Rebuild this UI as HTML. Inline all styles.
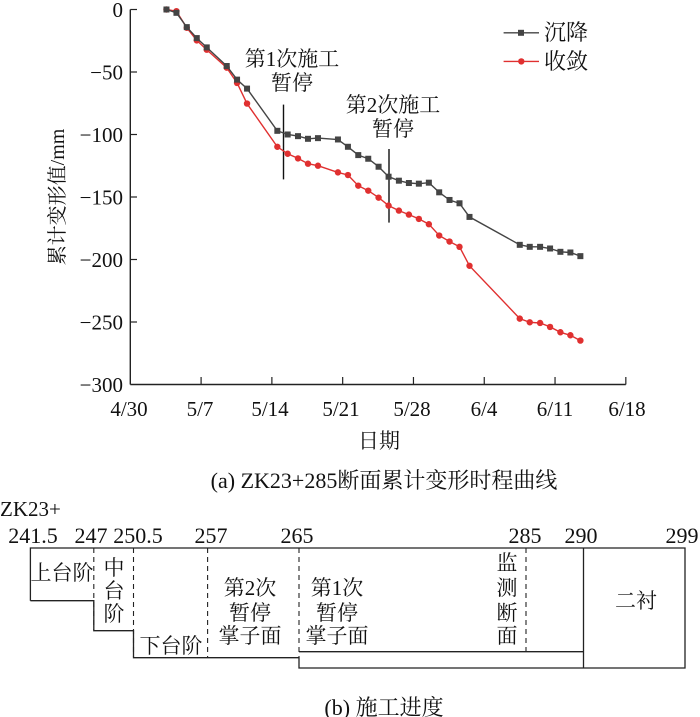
<!DOCTYPE html>
<html><head><meta charset="utf-8">
<style>
html,body{margin:0;padding:0;background:#fff;}
svg{display:block;}
text{font-family:"Liberation Serif","Noto Serif CJK SC","Noto Sans CJK SC",serif;fill:#111;}
</style></head>
<body>
<svg id="s" width="700" height="717" viewBox="0 0 700 717" xmlns="http://www.w3.org/2000/svg">
<g id="chart" stroke="#222" stroke-width="1.4" fill="none">
  <line x1="130.3" y1="9.5" x2="130.3" y2="384.5"/>
  <line x1="130.3" y1="384.5" x2="625.8" y2="384.5"/>
</g>
<g id="ticks" stroke="#222" stroke-width="1.2"></g>
<g font-size="21">
  <text x="123" y="17" text-anchor="end">0</text>
  <text x="123" y="79.5" text-anchor="end">−50</text>
  <text x="123" y="142" text-anchor="end">−100</text>
  <text x="123" y="204.5" text-anchor="end">−150</text>
  <text x="123" y="267" text-anchor="end">−200</text>
  <text x="123" y="329.5" text-anchor="end">−250</text>
  <text x="123" y="392" text-anchor="end">−300</text>
  <text x="129" y="416" text-anchor="middle">4/30</text>
  <text x="200" y="416" text-anchor="middle">5/7</text>
  <text x="270" y="416" text-anchor="middle">5/14</text>
  <text x="341" y="416" text-anchor="middle">5/21</text>
  <text x="412" y="416" text-anchor="middle">5/28</text>
  <text x="484" y="416" text-anchor="middle">6/4</text>
  <text x="555" y="416" text-anchor="middle">6/11</text>
  <text x="627" y="416" text-anchor="middle">6/18</text>
  <text x="379" y="448" text-anchor="middle">日期</text>
  <text x="384" y="488" text-anchor="middle" font-size="22">(a) ZK23+285断面累计变形时程曲线</text>
  <text transform="translate(64,197) rotate(-90)" text-anchor="middle" font-size="20">累计变形值/mm</text>
  <text x="292" y="66" text-anchor="middle">第1次施工</text>
  <text x="292" y="90" text-anchor="middle">暂停</text>
  <text x="393" y="112" text-anchor="middle">第2次施工</text>
  <text x="393" y="136" text-anchor="middle">暂停</text>
  <text x="544" y="40" font-size="22">沉降</text>
  <text x="544" y="69" font-size="22">收敛</text>
</g>
<line x1="283.5" y1="104.6" x2="283.5" y2="179.4" stroke="#111" stroke-width="1.4"/>
<line x1="389" y1="149" x2="389" y2="222.6" stroke="#111" stroke-width="1.4"/>
<line x1="503.6" y1="32.8" x2="539" y2="32.8" stroke="#444" stroke-width="1.4"/>
<rect x="518" y="29.8" width="6" height="6" fill="#444"/>
<line x1="503.6" y1="61.4" x2="539" y2="61.4" stroke="#e03030" stroke-width="1.4"/>
<circle cx="521.3" cy="61.4" r="3.2" fill="#e03030"/>
<g id="series"></g>

<g stroke="#222" stroke-width="1.3" fill="none">
  <polyline points="30.4,600.7 30.4,548 685,548 685,668 299,668 299,657.7 133.5,657.7 133.5,630.7 93.8,630.7 93.8,600.7 30.4,600.7"/>
  <line x1="299" y1="651.7" x2="583.5" y2="651.7"/>
  <line x1="583.5" y1="548" x2="583.5" y2="668"/>
  <g stroke-dasharray="5,4" stroke-width="1.1">
    <line x1="93.8" y1="548" x2="93.8" y2="630"/>
    <line x1="133.5" y1="548" x2="133.5" y2="657"/>
    <line x1="207.6" y1="548" x2="207.6" y2="657"/>
    <line x1="299" y1="548" x2="299" y2="657"/>
    <line x1="526" y1="548" x2="526" y2="651"/>
  </g>
</g>
<g font-size="21">
  <text x="0" y="516" font-size="21">ZK23+</text>
  <text x="33" y="543" text-anchor="middle" font-size="22">241.5</text>
  <text x="91" y="543" text-anchor="middle" font-size="22">247</text>
  <text x="138" y="543" text-anchor="middle" font-size="22">250.5</text>
  <text x="211" y="543" text-anchor="middle" font-size="22">257</text>
  <text x="297" y="543" text-anchor="middle" font-size="22">265</text>
  <text x="525" y="543" text-anchor="middle" font-size="22">285</text>
  <text x="581" y="543" text-anchor="middle" font-size="22">290</text>
  <text x="682" y="543" text-anchor="middle" font-size="22">299</text>
  <text x="62" y="580" text-anchor="middle">上台阶</text>
  <text x="114" y="575" text-anchor="middle">中</text>
  <text x="114" y="598" text-anchor="middle">台</text>
  <text x="114" y="621" text-anchor="middle">阶</text>
  <text x="171" y="653" text-anchor="middle">下台阶</text>
  <text x="250" y="595" text-anchor="middle">第2次</text>
  <text x="250" y="620" text-anchor="middle">暂停</text>
  <text x="250" y="643" text-anchor="middle">掌子面</text>
  <text x="337" y="595" text-anchor="middle">第1次</text>
  <text x="337" y="620" text-anchor="middle">暂停</text>
  <text x="337" y="643" text-anchor="middle">掌子面</text>
  <text x="507" y="570" text-anchor="middle">监</text>
  <text x="507" y="595" text-anchor="middle">测</text>
  <text x="507" y="620" text-anchor="middle">断</text>
  <text x="507" y="643" text-anchor="middle">面</text>
  <text x="636" y="608" text-anchor="middle">二衬</text>
  <text x="384" y="715" text-anchor="middle" font-size="22">(b) 施工进度</text>
</g>
</svg>
<script>
(function(){
var NS="http://www.w3.org/2000/svg";
var tk=document.getElementById('ticks');
for(var i=1;i<=7;i++){var x=130.3+i*70.79;var l=document.createElementNS(NS,'line');
l.setAttribute('x1',x);l.setAttribute('x2',x);l.setAttribute('y1',384.5);l.setAttribute('y2',377);tk.appendChild(l);}
for(var j=0;j<6;j++){var y=9.5+j*62.5;var l=document.createElementNS(NS,'line');
l.setAttribute('x1',130.3);l.setAttribute('x2',137);l.setAttribute('y1',y);l.setAttribute('y2',y);tk.appendChild(l);}
var zx=[193,222,252,281,310,368,398,427,515,545,575,604,633,691,720,750,779,809,838,868,897,926,955,985,1015,1044,1073,1219,1248,1278,1307,1337,1366,1395];
var bk=[27,37,80,113,141,197,238,265,392,403,408,416,414,418,440,465,476,500,530,542,549,551,548,577,600,610,651,735,741,741,746,756,758,769];
var rd=[27,32,82,120,148,202,248,310,440,461,475,491,497,517,525,557,572,593,617,632,644,657,673,707,725,741,798,957,968,970,982,998,1007,1023];
function X(v){return v/2.904+100;}function Y(v){return 9.5+(v-27)*0.3324;}
var g=document.getElementById('series');
function draw(arr,col,sq){var pts=[];for(var k=0;k<zx.length;k++)pts.push(X(zx[k]).toFixed(1)+','+Y(arr[k]).toFixed(1));
var p=document.createElementNS(NS,'polyline');p.setAttribute('points',pts.join(' '));p.setAttribute('fill','none');p.setAttribute('stroke',col);p.setAttribute('stroke-width','1.4');g.appendChild(p);
for(var k=0;k<zx.length;k++){var m;if(sq){m=document.createElementNS(NS,'rect');m.setAttribute('x',X(zx[k])-3);m.setAttribute('y',Y(arr[k])-3);m.setAttribute('width',6);m.setAttribute('height',6);}
else{m=document.createElementNS(NS,'circle');m.setAttribute('cx',X(zx[k]));m.setAttribute('cy',Y(arr[k]));m.setAttribute('r',3.2);}
m.setAttribute('fill',col);g.appendChild(m);}}
draw(rd,'#e03030',false);draw(bk,'#444',true);
})();
</script>
</body></html>
